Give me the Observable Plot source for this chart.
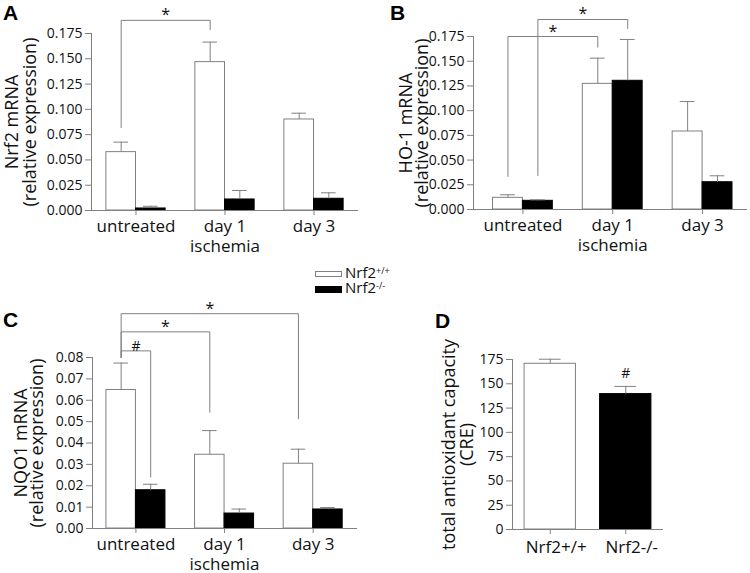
<!DOCTYPE html>
<html>
<head>
<meta charset="utf-8">
<script src="https://cdn.jsdelivr.net/npm/d3@7"></script>
<script src="https://cdn.jsdelivr.net/npm/@observablehq/plot@0.6"></script>
<style>
  html, body { margin: 0; padding: 0; background: #fff; }
  #fig { position: relative; width: 750px; height: 573px; overflow: hidden; font-family: "Open Sans", sans-serif; color: #111; }
  .letter { position: absolute; font: bold 21px/21px "Liberation Sans", Arial, sans-serif; color: #000; }
  .legbox { position: absolute; box-sizing: border-box; }
  .legtxt { position: absolute; font-size: 15px; line-height: 11px; white-space: nowrap; }
  .legtxt span { position: relative; top: -4px; font-size: 9px; line-height: 8px; }
</style>
</head>
<body>
<div id="fig"></div>
<script>
// ---------------- data ----------------
const groups = ["untreated", "day 1", "day 3"];
const groupTickLabels = ["untreated", "day 1\nischemia", "day 3"];
const seriesNames = ["Nrf2+/+", "Nrf2-/-"];

// A: Nrf2 mRNA
const nrf2WT = [0.0577, 0.1467, 0.0900];
const nrf2WTErr = [0.0099, 0.0198, 0.0062];
const nrf2KO = [0.0020, 0.0109, 0.0116];
const nrf2KOErr = [0.0022, 0.0089, 0.0059];

// B: HO-1 mRNA
const ho1WT = [0.0118, 0.1271, 0.0789];
const ho1WTErr = [0.0031, 0.0260, 0.0303];
const ho1KO = [0.0088, 0.1302, 0.0276];
const ho1KOErr = [0.0010, 0.0418, 0.0065];

// C: NQO1 mRNA
const nqo1WT = [0.0648, 0.0345, 0.0303];
const nqo1WTErr = [0.0126, 0.0113, 0.0068];
const nqo1KO = [0.0179, 0.0070, 0.0089];
const nqo1KOErr = [0.0028, 0.0021, 0.0009];

// D: total antioxidant capacity
const tacGroups = ["Nrf2+/+", "Nrf2-/-"];
const tacMean = [170.6, 139.4];
const tacErr = [4.7, 7.9];
const tacSig = ["", "#"];

// tick values
const ticksAB = [0, 0.025, 0.05, 0.075, 0.1, 0.125, 0.15, 0.175];
const ticksC = [0, 0.01, 0.02, 0.03, 0.04, 0.05, 0.06, 0.07, 0.08];
const ticksD = [0, 25, 50, 75, 100, 125, 150, 175];

// significance brackets (series 0 = Nrf2+/+, 1 = Nrf2-/-)
const bracketsA = [
  { g1: "untreated", s1: 0, g2: "day 1", s2: 0, y1: 0.082, top: 0.188, y2: 0.179, label: "*" }
];
const bracketsB = [
  { g1: "untreated", s1: 0, g2: "day 1", s2: 0, y1: 0.0334, top: 0.175, y2: 0.1642, label: "*" },
  { g1: "untreated", s1: 1, g2: "day 1", s2: 1, y1: 0.0344, top: 0.1922, y2: 0.1831, label: "*" }
];
const bracketsC = [
  { g1: "untreated", s1: 0, g2: "untreated", s2: 1, y1: 0.080, top: 0.0831, y2: 0.0241, label: "#" },
  { g1: "untreated", s1: 0, g2: "day 1", s2: 0, y1: 0.080, top: 0.0920, y2: 0.0544, label: "*" },
  { g1: "untreated", s1: 0, g2: "day 3", s2: 0, y1: 0.080, top: 0.1005, y2: 0.0513, label: "*" }
];

// ---------------- drawing ----------------
const GRAY = "#808080";
const INK = "#111";
const fig = document.getElementById("fig");

function place(node, left, top) {
  node.style.position = "absolute";
  node.style.left = left + "px";
  node.style.top = top + "px";
  fig.appendChild(node);
}

const baseStyle = { fontFamily: "Open Sans", fontSize: "14px", color: INK, background: "transparent", overflow: "visible" };

function yLabel(text, dx) {
  return Plot.text([text], { frameAnchor: "left", text: d => d, rotate: -90, dx, textAnchor: "middle", lineAnchor: "middle", fontSize: 18, fill: INK });
}

function groupedPanel(cfg) {
  const BW = 0.333;      // bar width in group units
  const CAP = 0.082;     // half width of error caps
  const rows = [];
  groups.forEach((g, i) => {
    rows.push({ g: i, s: 0, mean: cfg.wt[i], err: cfg.wtErr[i] });
    rows.push({ g: i, s: 1, mean: cfg.ko[i], err: cfg.koErr[i] });
  });
  const center = (g, s) => g + (s ? BW / 2 : -BW / 2);
  const gi = (name) => groups.indexOf(name);
  const pts = cfg.brackets.flatMap((b, k) => {
    const xa = center(gi(b.g1), b.s1), xb = center(gi(b.g2), b.s2);
    return [
      { k, x: xa, y: b.y1 }, { k, x: xa, y: b.top },
      { k, x: xb, y: b.top }, { k, x: xb, y: b.y2 }
    ];
  });
  return Plot.plot({
    width: cfg.width, height: cfg.height,
    marginLeft: cfg.ml, marginRight: cfg.mr, marginTop: cfg.mt, marginBottom: cfg.mb,
    x: { domain: cfg.xDomain },
    y: { domain: [0, cfg.yMax] },
    style: baseStyle,
    marks: [
      Plot.rect(rows.filter(d => d.s === 0), {
        x1: d => center(d.g, 0) - BW / 2, x2: d => center(d.g, 0) + BW / 2,
        y1: () => 0, y2: "mean", fill: "#fff", stroke: GRAY, strokeWidth: 1
      }),
      Plot.rect(rows.filter(d => d.s === 1), {
        x1: d => center(d.g, 1) - BW / 2, x2: d => center(d.g, 1) + BW / 2,
        y1: () => 0, y2: "mean", fill: "#000", stroke: "#000", strokeWidth: 1
      }),
      Plot.ruleX(rows, { x: d => center(d.g, d.s), y1: "mean", y2: d => d.mean + d.err, stroke: GRAY }),
      Plot.ruleY(rows, { y: d => d.mean + d.err, x1: d => center(d.g, d.s) - CAP, x2: d => center(d.g, d.s) + CAP, stroke: GRAY }),
      Plot.ruleY([0], { stroke: GRAY }),
      Plot.ruleX([cfg.xDomain[0]], { y1: () => 0, y2: () => cfg.yMax, stroke: GRAY }),
      Plot.axisY({ ticks: cfg.ticks, tickFormat: d3.format(cfg.fmt), tickSize: 6, tickPadding: 3, label: null, stroke: GRAY, fill: INK, fontSize: 14 }),
      Plot.axisX({ ticks: [0, 1, 2], tickFormat: i => groupTickLabels[i], tickSize: 5, tickPadding: 3, label: null, stroke: GRAY, fill: INK, fontSize: 17, lineHeight: 1.15 }),
      Plot.line(pts, { x: "x", y: "y", z: "k", stroke: GRAY, strokeWidth: 1 }),
      Plot.text(cfg.brackets, {
        x: b => (center(gi(b.g1), b.s1) + center(gi(b.g2), b.s2)) / 2,
        y: "top", text: "label", lineAnchor: "bottom",
        fontSize: b => (b.label === "#" ? 14 : 16), fill: INK
      }),
      yLabel(cfg.ylabel[0], cfg.ldx[0]),
      yLabel(cfg.ylabel[1], cfg.ldx[1])
    ]
  });
}

// Panel A
place(groupedPanel({
  wt: nrf2WT, wtErr: nrf2WTErr, ko: nrf2KO, koErr: nrf2KOErr,
  width: 375, height: 270, ml: 91, mr: 17, mt: 33, mb: 60,
  xDomain: [-0.5, 2.5], yMax: 0.175, ticks: ticksAB, fmt: ".3f",
  brackets: bracketsA, ylabel: ["Nrf2 mRNA", "(relative expression)"], ldx: [-79, -61]
}), 0, 0);

// Panel B
place(groupedPanel({
  wt: ho1WT, wtErr: ho1WTErr, ko: ho1KO, koErr: ho1KOErr,
  width: 375, height: 270, ml: 98, mr: 3, mt: 36, mb: 61,
  xDomain: [-0.55, 2.5], yMax: 0.175, ticks: ticksAB, fmt: ".3f",
  brackets: bracketsB, ylabel: ["HO-1 mRNA", "(relative expression)"], ldx: [-67, -51]
}), 375, 0);

// Panel C
place(groupedPanel({
  wt: nqo1WT, wtErr: nqo1WTErr, ko: nqo1KO, koErr: nqo1KOErr,
  width: 375, height: 303, ml: 92, mr: 18, mt: 87, mb: 45,
  xDomain: [-0.49, 2.5], yMax: 0.08, ticks: ticksC, fmt: ".2f",
  brackets: bracketsC, ylabel: ["NQO1 mRNA", "(relative expression)"], ldx: [-71, -55]
}), 0, 270);

// Panel D
(function () {
  const BW = 0.68, CAP = 0.144;
  const rows = tacGroups.map((g, i) => ({ g: i, mean: tacMean[i], err: tacErr[i], sig: tacSig[i] }));
  const svg = Plot.plot({
    width: 375, height: 303,
    marginLeft: 137, marginRight: 87, marginTop: 89, marginBottom: 44,
    x: { domain: [-0.5, 1.5] },
    y: { domain: [0, 175] },
    style: baseStyle,
    marks: [
      Plot.rect(rows.filter(d => d.g === 0), { x1: d => d.g - BW / 2, x2: d => d.g + BW / 2, y1: () => 0, y2: "mean", fill: "#fff", stroke: GRAY }),
      Plot.rect(rows.filter(d => d.g === 1), { x1: d => d.g - BW / 2, x2: d => d.g + BW / 2, y1: () => 0, y2: "mean", fill: "#000", stroke: "#000" }),
      Plot.ruleX(rows, { x: "g", y1: "mean", y2: d => d.mean + d.err, stroke: GRAY }),
      Plot.ruleY(rows, { y: d => d.mean + d.err, x1: d => d.g - CAP, x2: d => d.g + CAP, stroke: GRAY }),
      Plot.ruleY([0], { stroke: GRAY }),
      Plot.ruleX([-0.5], { y1: () => 0, y2: () => 175, stroke: GRAY }),
      Plot.axisY({ ticks: ticksD, tickFormat: d3.format("d"), tickSize: 6, tickPadding: 3, label: null, stroke: GRAY, fill: INK, fontSize: 14 }),
      Plot.axisX({ ticks: [0, 1], tickFormat: () => "", tickSize: 5, label: null, stroke: GRAY }),
      Plot.axisX({ ticks: [0, 1], tickFormat: i => tacGroups[i], tickSize: 0, tickPadding: 11, dx: 6, label: null, fill: INK, fontSize: 17 }),
      Plot.text(rows, { x: "g", y: d => d.mean + d.err, text: "sig", lineAnchor: "bottom", dy: -8, fontSize: 14, fill: INK }),
      yLabel("total antioxidant capacity", -63),
      yLabel("(CRE)", -45)
    ]
  });
  place(svg, 375, 270);
})();

// panel letters
[["A", 3, 2], ["B", 390, 2], ["C", 3, 309], ["D", 435, 310]].forEach(([t, l, tp]) => {
  const d = document.createElement("div");
  d.className = "letter"; d.textContent = t;
  d.style.left = l + "px"; d.style.top = tp + "px";
  fig.appendChild(d);
});

// legend
[
  { name: "Nrf2", sup: "+/+", fill: "#fff", border: GRAY, boxTop: 270.7, boxH: 6, textTop: 266.7 },
  { name: "Nrf2", sup: "-/-", fill: "#000", border: "#000", boxTop: 285.7, boxH: 7, textTop: 281.7 }
].forEach(item => {
  const b = document.createElement("div");
  b.className = "legbox";
  Object.assign(b.style, { left: "315px", top: item.boxTop + "px", width: "27px", height: item.boxH + "px", background: item.fill, border: "1px solid " + item.border });
  fig.appendChild(b);
  const t = document.createElement("div");
  t.className = "legtxt";
  t.style.left = "345px"; t.style.top = item.textTop + "px";
  t.innerHTML = item.name + "<span>" + item.sup + "</span>";
  fig.appendChild(t);
});
</script>
</body>
</html>
